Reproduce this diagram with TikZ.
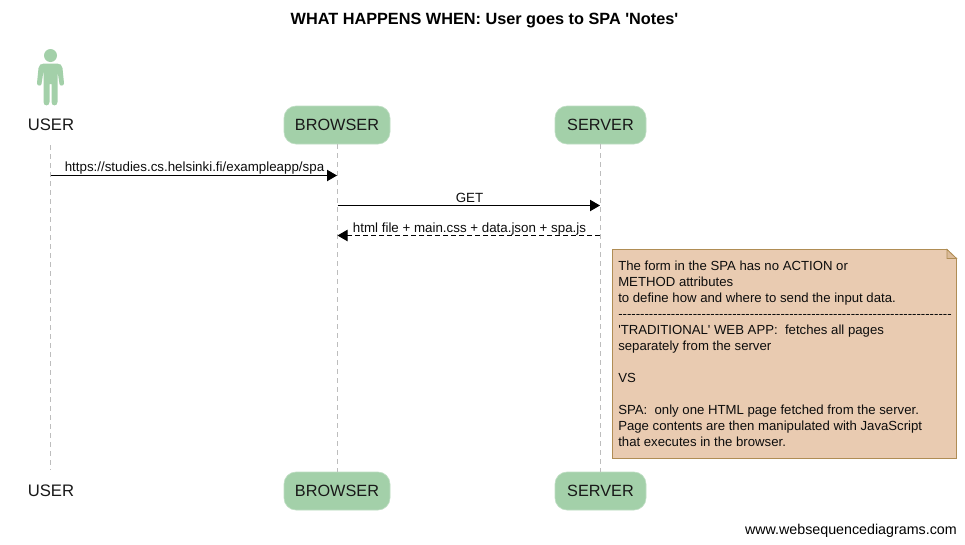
\documentclass[tikz,border=0pt]{standalone}
\usepackage{fontspec}
\setmainfont[Ligatures=NoCommon]{Liberation Sans}
\newfontfamily\plainfont{Liberation Sans}
\usetikzlibrary{arrows.meta}
\definecolor{actorgreen}{HTML}{A3D0A9}
\definecolor{notefill}{HTML}{E9CBB1}
\definecolor{noteline}{HTML}{B08D55}
\definecolor{lifegrey}{HTML}{BDBDBD}
\tikzset{
  px/.style={x=0.75pt,y=-0.75pt},
  actorbox/.style={fill=actorgreen,draw=actorgreen!70!white,line width=0.5pt,rounded corners=9pt,minimum height=28.5pt,inner sep=0pt,font=\plainfont\fontsize{12.2}{14}\selectfont,text=black!90},
  actorplain/.style={inner sep=0pt,font=\plainfont\fontsize{12.5}{14}\selectfont,text=black!90},
  lifeline/.style={draw=lifegrey,line width=0.75pt,dash pattern=on 3.75pt off 3pt},
  msg/.style={draw=black,line width=0.75pt,-{Triangle[length=7.5pt,width=8.5pt]}},
  msgdash/.style={msg,dash pattern=on 3.75pt off 2.25pt},
  msglabel/.style={inner sep=0pt,font=\plainfont\fontsize{10}{12}\selectfont,text=black!95},
  notetext/.style={inner sep=0pt,anchor=north west,align=left,font=\plainfont\fontsize{9.88}{12}\selectfont,text=black!95},
  figure/.style={fill=actorgreen,draw=none}
}
\begin{document}
\begin{tikzpicture}[px]
\useasboundingbox (0,0) rectangle (965,544);
\fill[white] (0,0) rectangle (965,544);
\node[inner sep=0pt,font=\plainfont\fontsize{12.2}{14}\selectfont\bfseries] (title) at (484.5,21) {WHAT HAPPENS WHEN: User goes to SPA 'Notes'};
% actor figure
\fill[figure] (50.5,55.5) circle (6.5);
\fill[figure] (44,63.5) .. controls (41,63.5) and (39,65) .. (38.5,68)
  -- (37,83) .. controls (36.8,86) and (41,86.5) .. (41.5,84)
  -- (43.5,71) -- (43.5,102) .. controls (43.5,106.5) and (49.5,106.5) .. (49.5,102)
  -- (49.5,84) -- (51.5,84) -- (51.5,102) .. controls (51.5,106.5) and (57.5,106.5) .. (57.5,102)
  -- (57.5,71) -- (59.5,84) .. controls (60,86.5) and (64.2,86) .. (64,83)
  -- (62.5,68) .. controls (62,65) and (60,63.5) .. (57,63.5) -- cycle;
% actors
\node[actorplain] (usertop) at (51,124.5) {USER};
\node[actorbox,minimum width=79.5pt] (browsertop) at (337,125) {BROWSER};
\node[actorbox,minimum width=68.25pt] (servertop) at (600.5,125) {SERVER};
\node[actorplain] (userbot) at (51,490.5) {USER};
\node[actorbox,minimum width=79.5pt] (browserbot) at (337,491) {BROWSER};
\node[actorbox,minimum width=68.25pt] (serverbot) at (600.5,491) {SERVER};
% lifeline end points
\coordinate (ut) at (50.5,145);
\coordinate (ub) at (50.5,470);
\draw[lifeline] (ut) -- (ub);
\draw[lifeline] (browsertop.south) -- (browserbot.north);
\draw[lifeline] (servertop.south) -- (serverbot.north);
% messages
\coordinate (m1a) at (50.5,175.5);
\coordinate (m1b) at (337,175.5);
\coordinate (m2a) at (337.5,205.5);
\coordinate (m2b) at (600,205.5);
\coordinate (m3a) at (600,235.5);
\coordinate (m3b) at (337.5,235.5);
\draw[msg] (m1a) -- (m1b);
\draw[msg] (m2a) -- (m2b);
\draw[msgdash] (m3a) -- (m3b);
\node[msglabel,anchor=base] (l1) at (194.5,171) {https://studies.cs.helsinki.fi/exampleapp/spa};
\node[msglabel,anchor=base] (l2) at (469.5,202) {GET};
\node[msglabel,anchor=base] (l3) at (469.5,232) {html file + main.css + data.json + spa.js};
% note
\draw[fill=notefill,draw=noteline,line width=0.6pt] (612.5,249.5) -- (947,249.5) -- (956.5,258.5) -- (956.5,458.5) -- (612.5,458.5) -- cycle;
\draw[fill=notefill!75!noteline,draw=noteline,line width=0.6pt] (947,249.5) -- (947,258.5) -- (956.5,258.5) -- cycle;
\node[notetext] (note) at (618,261) {The form in the SPA has no ACTION or\\
METHOD attributes\\
to define how and where to send the input data.\\
----------------------------------------------------------------------------\\
'TRADITIONAL' WEB APP:\ \ fetches all pages\\
separately from the server\\
\mbox{}\\
VS\\
\mbox{}\\
SPA:\ \ only one HTML page fetched from the server.\\
Page contents are then manipulated with JavaScript\\
that executes in the browser.};
\node[inner sep=0pt,anchor=base east,font=\plainfont\fontsize{10.7}{12}\selectfont] (brand) at (957,534) {www.websequencediagrams.com};
\end{tikzpicture}
\end{document}
